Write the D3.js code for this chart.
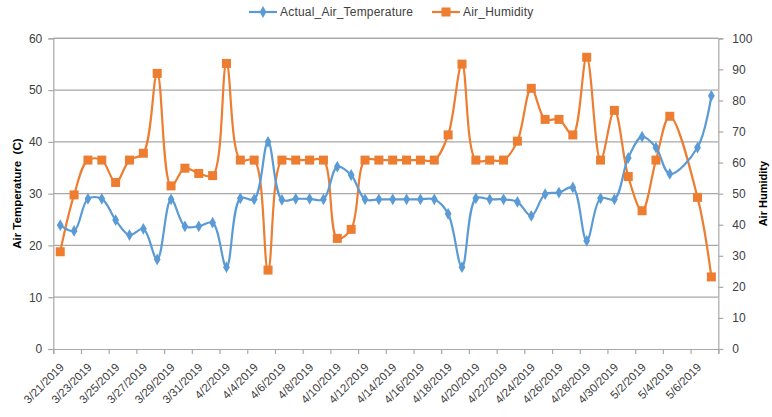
<!DOCTYPE html>
<html><head><meta charset="utf-8">
<script src="https://cdn.jsdelivr.net/npm/d3@7/dist/d3.min.js"></script>
<style>body{margin:0;background:#fff}svg{display:block;font-family:"Liberation Sans",Arial,sans-serif}</style>
</head><body><svg id="c" width="772" height="417"></svg>
<script>
const dates = ["3/21/2019","3/22/2019","3/23/2019","3/24/2019","3/25/2019","3/26/2019","3/27/2019","3/28/2019","3/29/2019","3/30/2019",
"3/31/2019","4/1/2019","4/2/2019","4/3/2019","4/4/2019","4/5/2019","4/6/2019","4/7/2019","4/8/2019","4/9/2019",
"4/10/2019","4/11/2019","4/12/2019","4/13/2019","4/14/2019","4/15/2019","4/16/2019","4/17/2019","4/18/2019","4/19/2019",
"4/20/2019","4/21/2019","4/22/2019","4/23/2019","4/24/2019","4/25/2019","4/26/2019","4/27/2019","4/28/2019","4/29/2019",
"4/30/2019","5/1/2019","5/2/2019","5/3/2019","5/4/2019","5/6/2019","5/7/2019"];
const temperature = [23.9,22.8,29.0,29.0,24.9,22.0,23.2,17.3,28.9,23.7,
23.7,24.4,15.8,29.1,28.9,40.0,28.8,29.0,29.0,28.9,
35.2,33.6,28.9,28.9,28.9,28.9,28.9,28.9,26.1,15.8,
29.1,28.9,28.9,28.4,25.7,29.9,30.2,31.2,20.9,29.1,
28.9,36.9,41.0,38.9,33.8,38.9,48.9];
const humidity = [31.3,49.6,60.8,60.8,53.6,60.8,63.0,88.7,52.5,58.2,
56.5,55.8,91.9,60.8,60.8,25.4,60.8,60.8,60.8,60.8,
35.6,38.5,60.8,60.8,60.8,60.8,60.8,60.8,68.9,91.7,
60.8,60.8,60.8,66.9,83.9,73.9,73.9,68.9,93.9,60.8,
76.8,55.5,44.5,60.8,74.9,48.8,23.2];
const tempTicks = [0,10,20,30,40,50,60];
const humTicks = [0,10,20,30,40,50,60,70,80,90,100];
const seriesNames = ["Actual_Air_Temperature","Air_Humidity"];

const parse = d3.timeParse("%m/%d/%Y");
const fmt = d => (d.getMonth()+1)+"/"+d.getDate()+"/"+d.getFullYear();
const DAY = 864e5;
const pts = dates.map((d,i)=>({t:new Date(+parse(d)+DAY/2), temp:temperature[i], hum:humidity[i]}));

const L=53.3, R=718.3, T=38.3, B=349;
const x = d3.scaleTime().domain([parse("3/21/2019"), parse("5/8/2019")]).range([L,R]);
const yT = d3.scaleLinear().domain([0,60]).range([B,T]);
const yH = d3.scaleLinear().domain([0,100]).range([B,T]);
const svg = d3.select("#c");
const blue="#5B9BD5", orange="#ED7D31", grid="#a8a8a8", txt="#404040";

// gridlines
svg.append("g").selectAll("line").data(tempTicks.filter(v=>v>0)).join("line")
  .attr("x1",L).attr("x2",R).attr("y1",d=>yT(d)).attr("y2",d=>yT(d))
  .attr("stroke",grid).attr("stroke-width",1.2);

// left axis
const gl = svg.append("g").attr("transform",`translate(${L},0)`)
  .call(d3.axisLeft(yT).tickValues(tempTicks).tickSize(5).tickPadding(6));
// right axis
const gr = svg.append("g").attr("transform",`translate(${R},0)`)
  .call(d3.axisRight(yH).tickValues(humTicks).tickSize(5).tickPadding(9));
// bottom axis
const xt = d3.timeDay.range(parse("3/21/2019"), new Date(+parse("5/8/2019")+1000)).filter((d,i)=>i%2===0);
const lastT = xt[xt.length-1];
const gb = svg.append("g").attr("transform",`translate(0,${B})`)
  .call(d3.axisBottom(x).tickValues(xt).tickSize(5).tickFormat(d=> +d===+lastT ? "" : fmt(d)));
gb.selectAll("text").attr("text-anchor","end").attr("dy",null).attr("y",0)
  .attr("transform","translate(11,19) rotate(-45)");

[gl,gr,gb].forEach(g=>{
  g.select(".domain").attr("stroke",grid).attr("stroke-width",1.2);
  g.selectAll(".tick line").attr("stroke",grid).attr("stroke-width",1.2);
  g.selectAll("text").attr("fill",txt).attr("font-size",12).attr("font-family","Liberation Sans, Arial, sans-serif");
});
gb.selectAll("text").attr("font-size",11.5);
// top border line
svg.append("line").attr("x1",L).attr("x2",R).attr("y1",T).attr("y2",T).attr("stroke",grid).attr("stroke-width",1.2);

// lines
const lineT = d3.line().x(d=>x(d.t)).y(d=>yT(d.temp)).curve(d3.curveCatmullRom.alpha(0.5));
const lineH = d3.line().x(d=>x(d.t)).y(d=>yH(d.hum)).curve(d3.curveCatmullRom.alpha(0.5));
svg.append("path").datum(pts).attr("d",lineH).attr("fill","none").attr("stroke",orange).attr("stroke-width",2.2);
svg.append("path").datum(pts).attr("d",lineT).attr("fill","none").attr("stroke",blue).attr("stroke-width",2.2);

const diamond = d3.symbol().type(d3.symbolDiamond).size(40);
svg.append("g").selectAll("path").data(pts).join("path")
  .attr("d",diamond).attr("transform",d=>`translate(${x(d.t)},${yT(d.temp)})`).attr("fill",blue);
svg.append("g").selectAll("rect").data(pts).join("rect")
  .attr("x",d=>x(d.t)-4.5).attr("y",d=>yH(d.hum)-4.5).attr("width",9).attr("height",9).attr("fill",orange);

// legend
const lg = svg.append("g").attr("font-size",12).attr("fill",txt);
lg.append("line").attr("x1",249).attr("x2",277).attr("y1",12).attr("y2",12).attr("stroke",blue).attr("stroke-width",2.2);
lg.append("path").attr("d",diamond).attr("transform","translate(263,12)").attr("fill",blue);
lg.append("text").attr("x",280).attr("y",16).attr("letter-spacing",0.2).text(seriesNames[0]);
lg.append("line").attr("x1",432).attr("x2",460).attr("y1",12).attr("y2",12).attr("stroke",orange).attr("stroke-width",2.2);
lg.append("rect").attr("x",441.5).attr("y",7.5).attr("width",9).attr("height",9).attr("fill",orange);
lg.append("text").attr("x",463).attr("y",16).attr("letter-spacing",0.2).text(seriesNames[1]);

// axis titles
svg.append("text").attr("transform",`translate(21,${(T+B)/2}) rotate(-90)`).attr("text-anchor","middle")
  .attr("font-size",11.5).attr("font-weight","bold").attr("fill","#000").attr("xml:space","preserve").text("Air Temperature  (C)");
svg.append("text").attr("transform",`translate(767,${(T+B)/2}) rotate(-90)`).attr("text-anchor","middle")
  .attr("font-size",11).attr("font-weight","bold").attr("fill","#000").text("Air Humidity");
</script></body></html>
